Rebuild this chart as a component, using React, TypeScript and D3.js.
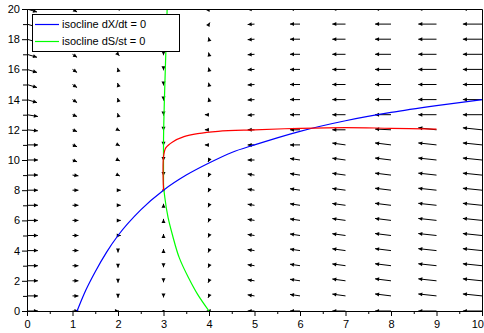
import React, { useRef, useEffect } from 'react'
import { select, scaleLinear, axisBottom, axisLeft, line, curveMonotoneX, curveMonotoneY, curveCatmullRom } from 'd3'

// axis ticks
const xTicks = [0, 1, 2, 3, 4, 5, 6, 7, 8, 9, 10]
const xMinorTicks = [0.5, 1.5, 2.5, 3.5, 4.5, 5.5, 6.5, 7.5, 8.5, 9.5]
const yTicks = [0, 2, 4, 6, 8, 10, 12, 14, 16, 18, 20]
const yMinorTicks = [1, 3, 5, 7, 9, 11, 13, 15, 17, 19]

// grid of the direction field
const gridX = [0, 1, 2, 3, 4, 5, 6, 7, 8, 9, 10]
const gridY = [0, 1, 2, 3, 4, 5, 6, 7, 8, 9, 10, 11, 12, 13, 14, 15, 16, 17, 18, 19, 20]

// horizontal component of each arrow (row = gridY index, column = gridX index)
const fieldU = [
  [0.24, 0.13, 0.02, 0, -0.05, -0.15, -0.22, -0.29, -0.35, -0.4, -0.42],
  [0.24, 0.13, 0, 0, -0.02, -0.15, -0.22, -0.29, -0.35, -0.4, -0.42],
  [0.24, 0.13, 0, 0, -0.02, -0.15, -0.22, -0.29, -0.35, -0.4, -0.42],
  [0.24, 0.13, 0, 0, -0.02, -0.15, -0.22, -0.29, -0.35, -0.4, -0.42],
  [0.24, 0.13, 0, 0, -0.02, -0.15, -0.22, -0.29, -0.35, -0.4, -0.42],
  [0.24, 0.13, 0.06, 0, -0.02, -0.15, -0.22, -0.29, -0.35, -0.4, -0.42],
  [0.24, 0.13, 0.06, 0, -0.02, -0.15, -0.22, -0.29, -0.35, -0.4, -0.42],
  [0.24, 0.13, 0.06, 0, -0.02, -0.15, -0.22, -0.29, -0.35, -0.4, -0.42],
  [0.24, 0.13, 0.06, 0, -0.02, -0.15, -0.22, -0.29, -0.35, -0.4, -0.42],
  [0.24, 0.13, 0.04, 0, -0.02, -0.15, -0.22, -0.29, -0.35, -0.4, -0.42],
  [0.24, 0.1, 0.04, 0, -0.02, -0.15, -0.22, -0.29, -0.35, -0.4, -0.42],
  [0.24, 0.1, 0.04, 0, -0.09, -0.15, -0.22, -0.29, -0.35, -0.4, -0.42],
  [0.24, 0.1, 0.04, 0, -0.09, -0.15, -0.22, -0.29, -0.35, -0.4, -0.42],
  [0.24, 0.1, -0.01, 0, -0.09, -0.15, -0.22, -0.29, -0.35, -0.4, -0.42],
  [0.22, 0.1, -0.01, 0, -0.01, -0.15, -0.22, -0.29, -0.35, -0.4, -0.42],
  [0.22, 0.1, -0.01, 0, -0.01, -0.15, -0.22, -0.29, -0.35, -0.4, -0.42],
  [0.22, 0.1, -0.01, 0, -0.01, -0.15, -0.22, -0.29, -0.35, -0.4, -0.42],
  [0.22, 0.1, 0.03, 0, -0.01, -0.15, -0.22, -0.29, -0.35, -0.4, -0.42],
  [0.22, 0.1, 0.03, 0, -0.01, -0.15, -0.22, -0.29, -0.35, -0.4, -0.42],
  [0.22, 0.1, 0.03, 0, 0.02, -0.15, -0.22, -0.29, -0.35, -0.4, -0.42],
  [0.22, 0.1, 0.03, 0, 0.02, -0.15, -0.22, -0.29, -0.35, -0.4, -0.42],
]

// vertical component of each arrow
const fieldV = [
  [0, 0, 0, 0, 0, 0, 0, 0, 0, 0, 0],
  [0, 0, -0.13, -0.1, -0.13, 0.07, 0.1, 0.12, 0.13, 0.13, 0.13],
  [0, 0, -0.13, -0.1, -0.13, 0.07, 0.1, 0.12, 0.13, 0.13, 0.13],
  [0, 0, -0.13, -0.1, -0.13, 0.07, 0.1, 0.12, 0.13, 0.13, 0.13],
  [0, 0, -0.13, 0.1, -0.13, 0.07, 0.1, 0.12, 0.13, 0.13, 0.13],
  [0, 0, 0, 0.1, -0.13, 0.07, 0.1, 0.12, 0.13, 0.13, 0.13],
  [0, 0, 0, 0.1, -0.13, 0.07, 0.1, 0.12, 0.13, 0.13, 0.13],
  [0, 0, 0, 0.1, -0.13, 0.07, 0.1, 0.12, 0.13, 0.13, 0.13],
  [0, 0, 0, 0, -0.13, 0.07, 0.1, 0.12, 0.13, 0.13, 0.13],
  [0, -0.05, -0.06, -0.06, -0.13, 0.07, 0.1, 0.12, 0.13, 0.13, 0.13],
  [0, -0.12, -0.06, -0.06, -0.13, 0, 0.1, 0.12, 0.13, 0.13, 0.13],
  [0, -0.12, -0.06, -0.06, 0, 0, 0, 0.12, 0.13, 0.13, 0.13],
  [-0.07, -0.12, -0.06, -0.06, 0, 0, 0, 0, 0.05, 0.13, 0.13],
  [-0.12, -0.12, 0.1, -0.06, 0, -0.03, 0, 0, 0, 0, 0],
  [-0.2, -0.2, 0.1, -0.06, 0.12, -0.03, 0, 0, 0, 0, 0],
  [-0.2, -0.2, 0.1, -0.06, 0.12, -0.03, 0, 0, 0, 0, 0],
  [-0.2, -0.2, 0.1, -0.06, 0.12, -0.03, 0, 0, 0, 0, 0],
  [-0.2, -0.2, -0.1, -0.06, 0.12, -0.03, 0, 0, 0, 0, 0],
  [-0.2, -0.2, -0.1, -0.06, 0.12, -0.03, 0, 0, 0, 0, 0],
  [-0.2, -0.2, -0.1, -0.06, 0.1, -0.03, 0, 0, 0, 0, 0],
  [-0.2, -0.2, -0.1, -0.06, 0.1, -0.03, 0, 0, 0, 0, 0],
]

// isocline dX/dt = 0 (blue)
const isoX = [[1.1, 0], [1.25, 1.1], [1.5, 2.6], [1.75, 3.9], [2, 5.0], [2.5, 6.7], [3, 8.0], [3.5, 9.0],
  [4, 9.8], [4.5, 10.5], [5, 11.0], [6, 11.9], [7, 12.6], [8, 13.15], [9, 13.6], [10, 14.0]]

// isocline dS/dt = 0 (green)
const isoS = [[4.0, 0], [3.75, 1.1], [3.55, 2.2], [3.35, 3.5], [3.2, 5], [3.1, 6.2], [3.03, 7.5], [3.0, 8.5],
  [3.0, 11], [3.02, 14], [3.05, 17], [3.08, 20]]

// trajectory (red)
const trajectory = [[3.0, 8.0], [3.0, 10.2], [3.05, 10.8], [3.2, 11.2], [3.45, 11.55], [3.75, 11.75], [4.2, 11.9],
  [5, 12.0], [6, 12.1], [7, 12.15], [8, 12.1], [9, 12.05]]

const legendLabels = ['isocline dX/dt = 0', 'isocline dS/st = 0']

const FONT = '"Liberation Sans", Arial, sans-serif'

const App = () => {
  const svgRef = useRef(null)

  useEffect(() => {
    const svg = select(svgRef.current)
    svg.selectAll('*').remove()

    const xScale = scaleLinear().domain([0, 10]).range([27, 482])
    const yScale = scaleLinear().domain([0, 20]).range([311, 9])

    svg.append('defs').append('clipPath').attr('id', 'plotClip')
      .append('rect').attr('x', 27).attr('y', 9).attr('width', 456).attr('height', 303)

    // direction field
    const field = svg.append('g').attr('clip-path', 'url(#plotClip)')
    gridY.forEach((gy, j) => {
      gridX.forEach((gx, i) => {
        const x0 = xScale(gx)
        const y0 = yScale(gy)
        const x1 = xScale(gx + fieldU[j][i])
        const y1 = yScale(gy + fieldV[j][i])
        const dx = x1 - x0
        const dy = y1 - y0
        const len = Math.hypot(dx, dy)
        if (len < 0.01) {
          field.append('rect').attr('x', x0 - 1).attr('y', y0 - 1).attr('width', 2).attr('height', 2).attr('fill', '#000')
          return
        }
        field.append('line')
          .attr('x1', x0).attr('y1', y0).attr('x2', x1).attr('y2', y1)
          .attr('stroke', '#000').attr('stroke-width', 1)
        const ux = dx / len
        const uy = dy / len
        const bx = x1 - 4 * ux
        const by = y1 - 4 * uy
        field.append('path')
          .attr('d', `M${x1},${y1}L${bx - 2 * uy},${by + 2 * ux}L${bx + 2 * uy},${by - 2 * ux}Z`)
          .attr('fill', '#000')
      })
    })

    // curves
    const plot = svg.append('g').attr('clip-path', 'url(#plotClip)')
    const greenLine = line().x(d => xScale(d[0])).y(d => yScale(d[1])).curve(curveMonotoneY)
    plot.append('path').attr('d', greenLine(isoS)).attr('fill', 'none').attr('stroke', '#00ff00').attr('stroke-width', 1.2)
    const blueLine = line().x(d => xScale(d[0])).y(d => yScale(d[1])).curve(curveMonotoneX)
    plot.append('path').attr('d', blueLine(isoX)).attr('fill', 'none').attr('stroke', '#0000ff').attr('stroke-width', 1.2)
    const redLine = line().x(d => xScale(d[0])).y(d => yScale(d[1])).curve(curveCatmullRom)
    plot.append('path').attr('d', redLine(trajectory)).attr('fill', 'none').attr('stroke', '#ff0000').attr('stroke-width', 1.2)

    // axes
    const xAxis = svg.append('g').attr('transform', `translate(0,${yScale(0)})`)
      .call(axisBottom(xScale).tickValues(xTicks).tickSize(5).tickSizeOuter(0).tickPadding(4))
    svg.append('g').attr('transform', `translate(0,${yScale(0)})`)
      .call(axisBottom(xScale).tickValues(xMinorTicks).tickSize(3).tickSizeOuter(0).tickFormat(() => ''))
    const yAxis = svg.append('g').attr('transform', `translate(${xScale(0)},0)`)
      .call(axisLeft(yScale).tickValues(yTicks).tickSize(5).tickSizeOuter(0).tickPadding(2))
    svg.append('g').attr('transform', `translate(${xScale(0)},0)`)
      .call(axisLeft(yScale).tickValues(yMinorTicks).tickSize(4).tickSizeOuter(0).tickFormat(() => ''))
    svg.selectAll('.tick text').attr('font-family', FONT).attr('font-size', 11).attr('fill', '#000')
    xAxis.attr('font-family', FONT)
    yAxis.attr('font-family', FONT)
    // last x label sits at the window edge: keep it inside
    xAxis.selectAll('.tick text').filter(d => d === 10).attr('text-anchor', 'end').attr('x', 1.5)

    // frame top and right
    svg.append('path')
      .attr('d', `M${xScale(0) + 0.5},${yScale(20) + 0.5}H${xScale(10) + 0.5}V${yScale(0) + 0.5}`)
      .attr('fill', 'none').attr('stroke', '#000')

    // legend
    const legend = svg.append('g')
    legend.append('rect').attr('x', 32.5).attr('y', 14.5).attr('width', 147).attr('height', 37)
      .attr('fill', '#fff').attr('stroke', '#000')
    const colors = ['#0000ff', '#00ff00']
    legendLabels.forEach((label, k) => {
      const ly = 24.5 + k * 17
      legend.append('line').attr('x1', 35).attr('x2', 59).attr('y1', ly).attr('y2', ly)
        .attr('stroke', colors[k]).attr('stroke-width', 1.2)
      legend.append('text').attr('x', 62).attr('y', ly + 3.8)
        .attr('font-family', FONT).attr('font-size', 11).attr('fill', '#000').text(label)
    })
  }, [])

  return (
    <svg ref={svgRef} width={484} height={333} style={{ position: 'absolute', left: 0, top: 0, background: '#fff' }} />
  )
}

export default App
